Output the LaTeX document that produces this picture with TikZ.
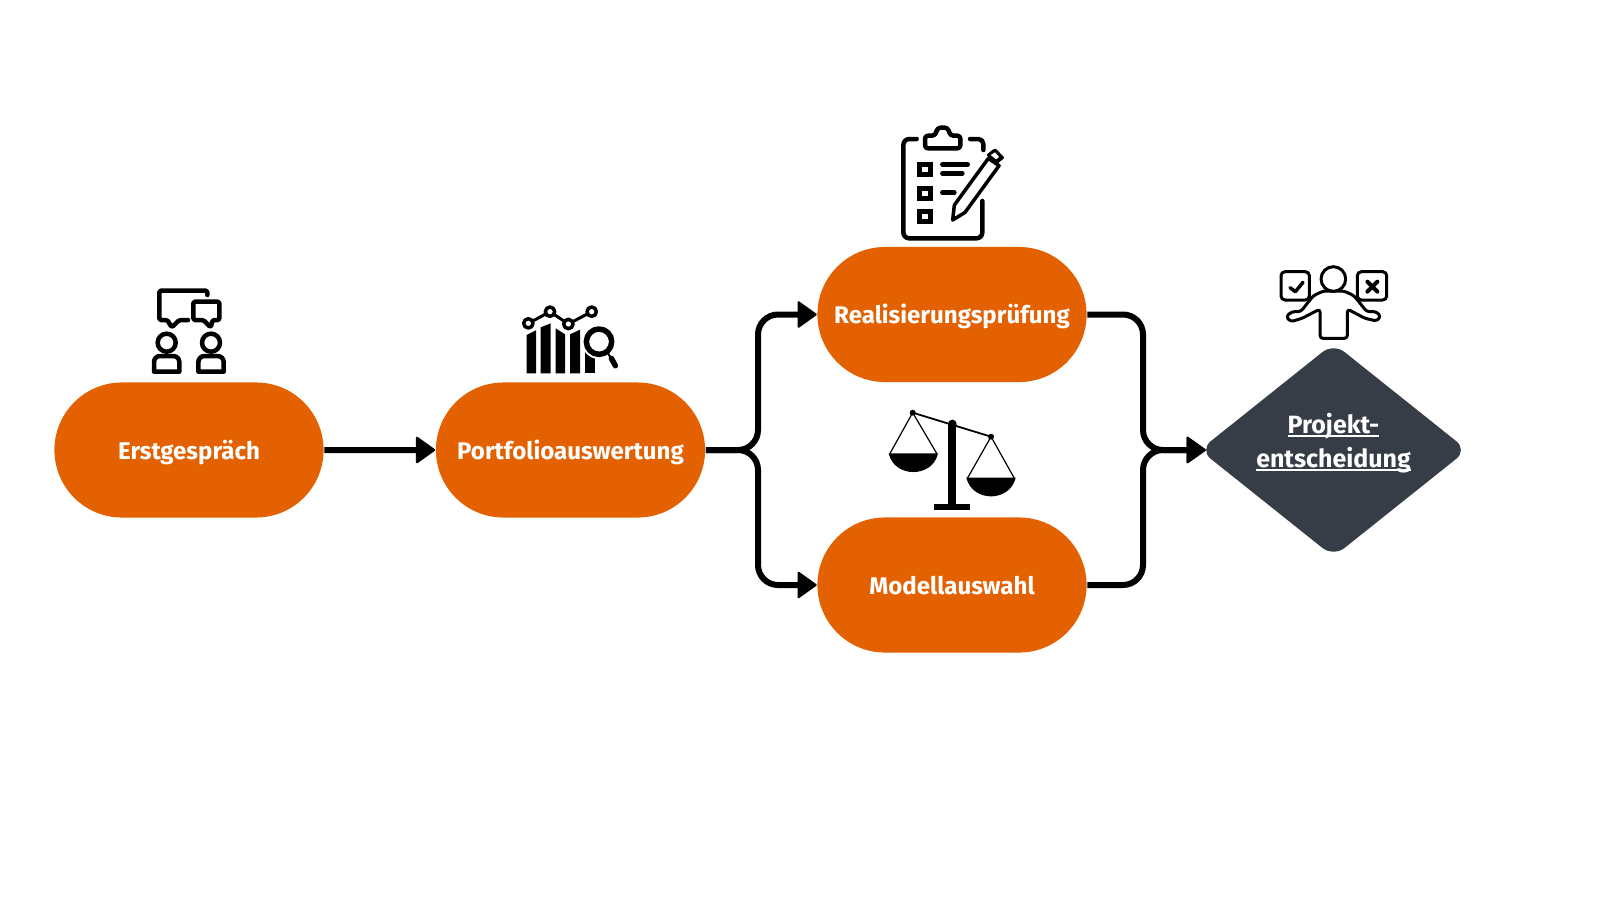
\documentclass[tikz,border=0pt]{standalone}
\definecolor{accent}{RGB}{227,97,0}
\definecolor{ink}{RGB}{55,61,71}
\usepackage{fontspec}
\setmainfont{Fira Sans}
\usetikzlibrary{arrows.meta,shapes.geometric,shapes.misc}
\newcommand{\lowline}[1]{\setbox0\hbox{#1}\rlap{\rule[-1.1pt]{\wd0}{0.55pt}}\box0}

\begin{document}
\begin{tikzpicture}[x=0.01cm, y=-0.01cm,
    every node/.style={font=\fontsize{6.85}{9.55}\selectfont\bfseries, text=white, inner sep=0pt},
    stadium/.style={rounded rectangle, fill=accent, minimum width=2.69cm, minimum height=1.35cm, text height=6pt, text depth=0.8pt},
    decision/.style={diamond, fill=ink, aspect=1.25, rounded corners=0.14cm, minimum width=2.68cm, minimum height=2.14cm, align=center, font=\fontsize{7.1}{9.65}\selectfont\bfseries},
    flow/.style={line width=0.06cm, rounded corners=0.2cm, -{Triangle[length=0.2cm,width=0.28cm,round,line width=0.6pt]}},
    zoomarea/.style={shift={#1}, x=0.03333mm, y=-0.03333mm, line join=round, line cap=round, line width=0.045cm}]
        \useasboundingbox (0,0) rectangle (1600,900);
        \node[stadium] (first) at (189,450) {Erstgespräch};
        \node[stadium] (portfolio) at (570.5,450) {Portfolioauswertung};
        \node[stadium] (check) at (952,314.5) {Realisierungsprüfung};
        \node[stadium] (model) at (952,585) {Modellauswahl};
        \node[decision] (decide) at (1333.5,450) {\lowline{Projekt-}\\\lowline{entscheidung}\rule[-5.5pt]{0pt}{5.5pt}};
        \coordinate (split) at (758,450);
        \coordinate (merge) at (1143,450);
        \draw[flow] (first) -- (portfolio);
        \draw[flow] (portfolio.east) -- (split) -- (split |- check) -- (check.west);
        \draw[flow] (portfolio.east) -- (split) -- (split |- model) -- (model.west);
        \draw[flow, shorten >=-0.07cm] (check.east) -- (merge |- check) -- (merge) -- (decide.west);
        \draw[flow, shorten >=-0.07cm] (model.east) -- (merge |- model) -- (merge) -- (decide.west);
        % people talking
        \begin{scope}[zoomarea={(130,270)}]
          \draw[rounded corners=0.015cm] (232,75) -- (232,62) -- (88,62) -- (88,150) -- (112,150) -- (125,172) -- (148,150) -- (174,150);
          \draw[rounded corners=0.015cm] (190,95) -- (268,95) -- (268,150) -- (248,150) -- (242,172) -- (220,150) -- (190,150) -- cycle;
          \draw (110,218) circle (27);
          \draw (243,218) circle (27);
          \draw (72,305) [rounded corners=0.06cm] -- (72,258) -- (148,258) [sharp corners] -- (148,305) -- cycle;
          \draw (205,305) [rounded corners=0.06cm] -- (205,258) -- (281,258) [sharp corners] -- (281,305) -- cycle;
        \end{scope}
        % chart with magnifier
        \begin{scope}[zoomarea={(510,295)}]
          \fill (50,235) -- (50,120) -- (78,106) -- (78,235) -- cycle;
          \fill (92,235) -- (92,97) -- (122,85) -- (122,235) -- cycle;
          \fill (137,235) -- (137,100) -- (165,118) -- (165,235) -- cycle;
          \fill (180,235) -- (180,118) -- (210,104) -- (210,235) -- cycle;
          \fill (225,235) -- (225,150) -- (255,150) -- (255,235) -- cycle;
          \draw[line width=0.03cm] (55,85) -- (120,50) -- (175,87) -- (245,50);
          \draw[line width=0.035cm, fill=white] (55,85) circle (14);
          \draw[line width=0.035cm, fill=white] (120,50) circle (14);
          \draw[line width=0.035cm, fill=white] (175,87) circle (14);
          \draw[line width=0.035cm, fill=white] (245,50) circle (14);
          \fill[white] (267,140) circle (52);
          \draw[line width=0.055cm] (267,140) circle (38);
          \draw[line width=0.02cm] (292,172) -- (302,188);
          \draw[line width=0.055cm] (304,190) -- (316,212);
        \end{scope}
        % clipboard
        \begin{scope}[zoomarea={(885,115)}]
          \draw[rounded corners=0.06cm] (95,72) -- (55,72) -- (55,370) -- (292,370) -- (292,258);
          \draw[rounded corners=0.05cm] (255,72) -- (295,72) -- (295,105);
          \draw[rounded corners=0.03cm] (120,100) -- (120,62) -- (150,62) -- (158,38) -- (188,38) -- (196,62) -- (226,62) -- (226,100) -- cycle;
          \draw[line join=miter] (103,148) rectangle (136,178);
          \draw[line join=miter] (103,220) rectangle (136,250);
          \draw[line join=miter] (103,289) rectangle (136,319);
          \draw (172,148) -- (248,148);
          \draw (172,175) -- (232,175);
          \draw (172,233) -- (208,233);
          \draw[line width=0.035cm] (203,315) -- (208,270) -- (310,130) -- (342,152) -- (240,292) -- cycle;
          \draw[line width=0.03cm, fill=black] (310,120) -- (330,105) -- (352,128) -- (335,142) -- cycle;
          \fill[white] (317,120) -- (330,112) -- (342,126) -- (333,133) -- cycle;
        \end{scope}
        % balance
        \begin{scope}[zoomarea={(875,400)}]
          \draw[line width=0.018cm] (113,38) -- (348,110);
          \fill (113,38) circle (9);
          \fill (232,72) circle (13);
          \fill (348,110) circle (9);
          \fill (220,72) rectangle (244,320);
          \fill (178,313) rectangle (285,329);
          \draw[line width=0.012cm] (45,160) -- (113,38) -- (185,160);
          \draw[line width=0.012cm] (277,235) -- (348,110) -- (418,235);
          \fill (41,160) .. controls (50,200) and (85,216) .. (115,216) .. controls (145,216) and (180,200) .. (189,160) -- cycle;
          \fill (274,233) .. controls (283,272) and (318,289) .. (348,289) .. controls (378,289) and (413,272) .. (422,233) -- cycle;
        \end{scope}
        % person deciding
        \begin{scope}[zoomarea={(1270,255)}]
          \draw[line width=0.03cm, rounded corners=0.04cm] (33,50) rectangle (118,135);
          \draw[line width=0.03cm, rounded corners=0.04cm] (262,50) rectangle (350,135);
          \draw[line width=0.035cm] (60,98) -- (76,110) -- (99,82);
          \draw[line width=0.04cm] (292,80) -- (322,110);
          \draw[line width=0.04cm] (322,80) -- (292,110);
          \draw[line width=0.03cm, rounded corners=0.03cm] (150,250) -- (150,162) -- (96,190) -- (62,200) -- (48,185) -- (65,170) -- (92,170) -- (130,122) -- (160,108) -- (222,108) -- (252,122) -- (290,170) -- (320,170) -- (332,185) -- (320,198) -- (285,190) -- (232,162) -- (232,250) -- cycle;
          \draw[line width=0.03cm, fill=white] (190,72) circle (37);
        \end{scope}
      \end{tikzpicture}
\end{document}
